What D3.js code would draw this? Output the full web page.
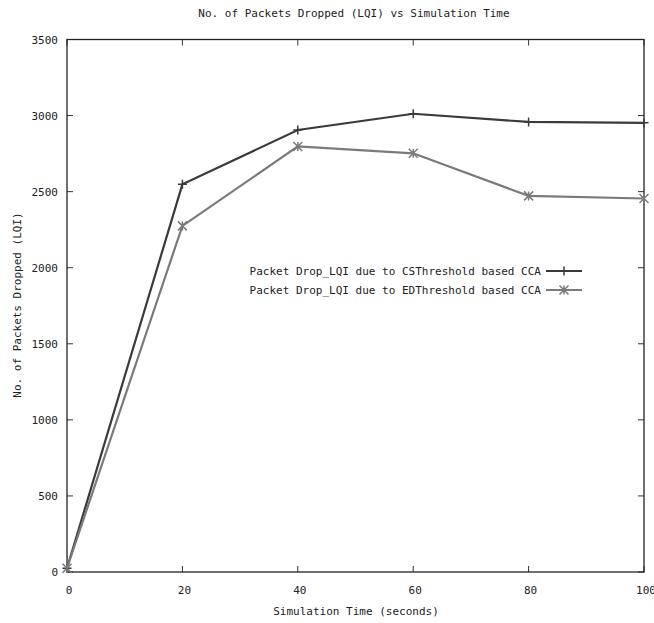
<!DOCTYPE html>
<html><head><meta charset="utf-8">
<script src="https://cdn.jsdelivr.net/npm/d3@7"></script>
<style>body{margin:0;background:#fff}svg{display:block}text{font-family:"DejaVu Sans Mono",monospace;font-size:11px;fill:#222}</style>
</head><body><svg id="c" width="654" height="623"></svg>
<script>
const times = [0, 20, 40, 60, 80, 100];
const csValues = [25, 2548, 2905, 3012, 2958, 2952];
const edValues = [25, 2275, 2797, 2752, 2472, 2455];
const seriesNames = ["Packet Drop_LQI due to CSThreshold based CCA", "Packet Drop_LQI due to EDThreshold based CCA"];
const xTicks = [0, 20, 40, 60, 80, 100];
const yTicks = [0, 500, 1000, 1500, 2000, 2500, 3000, 3500];
const title = "No. of Packets Dropped (LQI) vs Simulation Time";
const xTitle = "Simulation Time (seconds)";
const yTitle = "No. of Packets Dropped (LQI)";

const svg = d3.select("#c");
const L = 67, R = 644, T = 39.5, B = 572;
const x = d3.scaleLinear().domain([0, 100]).range([L, R]);
const y = d3.scaleLinear().domain([0, 3500]).range([B, T]);
const tl = 6;

// ticks (mirrored, inward)
const g = svg.append("g");
xTicks.forEach(t => {
  g.append("line").attr("x1", x(t)).attr("x2", x(t)).attr("y1", B).attr("y2", B - tl).attr("stroke", "#333");
  g.append("line").attr("x1", x(t)).attr("x2", x(t)).attr("y1", T).attr("y2", T + tl).attr("stroke", "#333");
  g.append("text").attr("x", x(t) + 2).attr("y", 594).attr("text-anchor", "middle").text(t);
});
yTicks.forEach(t => {
  g.append("line").attr("x1", L).attr("x2", L + tl).attr("y1", y(t)).attr("y2", y(t)).attr("stroke", "#333");
  g.append("line").attr("x1", R).attr("x2", R - tl).attr("y1", y(t)).attr("y2", y(t)).attr("stroke", "#333");
  g.append("text").attr("x", 58).attr("y", y(t) + 4).attr("text-anchor", "end").text(t);
});
// border
svg.append("rect").attr("x", L).attr("y", T).attr("width", R - L).attr("height", B - T)
  .attr("fill", "none").attr("stroke", "#222").attr("stroke-width", 1.3);

const series = [
  {name: seriesNames[0], vals: csValues, color: "#3a3a3a", mark: "plus"},
  {name: seriesNames[1], vals: edValues, color: "#7a7a7a", mark: "cross"}
];
const line = d3.line().x(d => x(d[0])).y(d => y(d[1]));
function marker(sel, cx, cy, type, color) {
  const s = 4.5;
  if (type === "plus") {
    sel.append("path").attr("d", `M${cx - s},${cy}H${cx + s}M${cx},${cy - s}V${cy + s}`).attr("stroke", color).attr("stroke-width", 1.5);
  } else {
    sel.append("path").attr("d", `M${cx - s},${cy - s}L${cx + s},${cy + s}M${cx - s},${cy + s}L${cx + s},${cy - s}M${cx},${cy - s}V${cy + s}`)
      .attr("stroke", color).attr("stroke-width", 1.5);
  }
}
series.forEach((s, i) => {
  const pts = times.map((t, j) => [t, s.vals[j]]);
  svg.append("path").datum(pts).attr("d", line).attr("fill", "none").attr("stroke", s.color).attr("stroke-width", 2.2);
  pts.forEach(p => marker(svg, x(p[0]), y(p[1]), s.mark, s.color));
  const ly = 275 + i * 19;
  svg.append("text").attr("x", 541).attr("y", ly).attr("text-anchor", "end").text(s.name);
  svg.append("line").attr("x1", 546).attr("x2", 582).attr("y1", ly - 4).attr("y2", ly - 4).attr("stroke", s.color).attr("stroke-width", 2.2);
  marker(svg, 564, ly - 4, s.mark, s.color);
});

svg.append("text").attr("x", 354).attr("y", 17).attr("text-anchor", "middle").text(title);
svg.append("text").attr("x", 356).attr("y", 615).attr("text-anchor", "middle").text(xTitle);
svg.append("text").attr("transform", "translate(21,305) rotate(-90)").attr("text-anchor", "middle").text(yTitle);
</script></body></html>
